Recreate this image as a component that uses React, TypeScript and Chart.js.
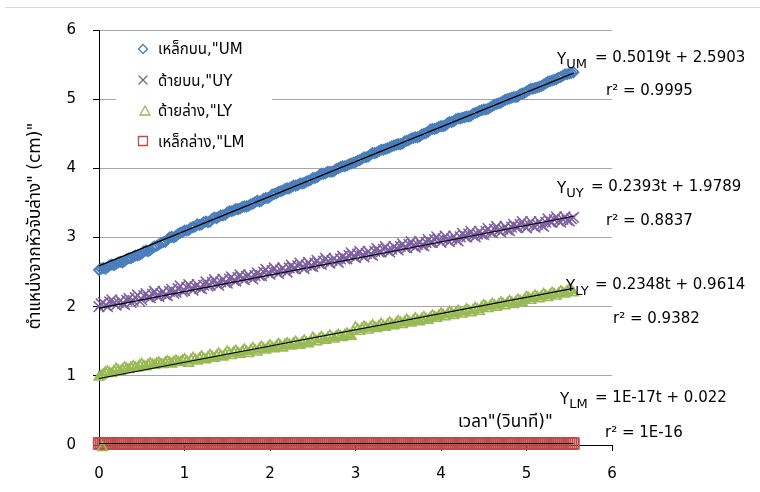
import React, { useEffect, useRef } from 'react';
import { Chart, registerables } from 'chart.js';

Chart.register(...registerables);

// ---------- data ----------
// readings at even frames
const TIME = [
  0, 0.05, 0.1, 0.15, 0.2, 0.25, 0.3, 0.35, 0.4, 0.45,
  0.5, 0.55, 0.6, 0.65, 0.7, 0.75, 0.8, 0.85, 0.9, 0.95,
  1.0, 1.05, 1.1, 1.15, 1.2, 1.25, 1.3, 1.35, 1.4, 1.45,
  1.5, 1.55, 1.6, 1.65, 1.7, 1.75, 1.8, 1.85, 1.9, 1.95,
  2.0, 2.05, 2.1, 2.15, 2.2, 2.25, 2.3, 2.35, 2.4, 2.45,
  2.5, 2.55, 2.6, 2.65, 2.7, 2.75, 2.8, 2.85, 2.9, 2.95,
  3.0, 3.05, 3.1, 3.15, 3.2, 3.25, 3.3, 3.35, 3.4, 3.45,
  3.5, 3.55, 3.6, 3.65, 3.7, 3.75, 3.8, 3.85, 3.9, 3.95,
  4.0, 4.05, 4.1, 4.15, 4.2, 4.25, 4.3, 4.35, 4.4, 4.45,
  4.5, 4.55, 4.6, 4.65, 4.7, 4.75, 4.8, 4.85, 4.9, 4.95,
  5.0, 5.05, 5.1, 5.15, 5.2, 5.25, 5.3, 5.35, 5.4, 5.45,
  5.5, 5.55,
];
// readings at odd frames
const TIME2 = [
  0.025, 0.075, 0.125, 0.175, 0.225, 0.275, 0.325, 0.375, 0.425, 0.475,
  0.525, 0.575, 0.625, 0.675, 0.725, 0.775, 0.825, 0.875, 0.925, 0.975,
  1.025, 1.075, 1.125, 1.175, 1.225, 1.275, 1.325, 1.375, 1.425, 1.475,
  1.525, 1.575, 1.625, 1.675, 1.725, 1.775, 1.825, 1.875, 1.925, 1.975,
  2.025, 2.075, 2.125, 2.175, 2.225, 2.275, 2.325, 2.375, 2.425, 2.475,
  2.525, 2.575, 2.625, 2.675, 2.725, 2.775, 2.825, 2.875, 2.925, 2.975,
  3.025, 3.075, 3.125, 3.175, 3.225, 3.275, 3.325, 3.375, 3.425, 3.475,
  3.525, 3.575, 3.625, 3.675, 3.725, 3.775, 3.825, 3.875, 3.925, 3.975,
  4.025, 4.075, 4.125, 4.175, 4.225, 4.275, 4.325, 4.375, 4.425, 4.475,
  4.525, 4.575, 4.625, 4.675, 4.725, 4.775, 4.825, 4.875, 4.925, 4.975,
  5.025, 5.075, 5.125, 5.175, 5.225, 5.275, 5.325, 5.375, 5.425, 5.475,
  5.525,
];

const UM = [
  2.53, 2.56, 2.57, 2.61, 2.62, 2.65, 2.66, 2.70, 2.72, 2.74,
  2.77, 2.81, 2.82, 2.87, 2.90, 2.93, 2.97, 3.01, 3.02, 3.07,
  3.10, 3.11, 3.15, 3.19, 3.19, 3.23, 3.23, 3.29, 3.30, 3.32,
  3.36, 3.38, 3.41, 3.42, 3.45, 3.46, 3.49, 3.53, 3.53, 3.57,
  3.59, 3.63, 3.66, 3.68, 3.71, 3.73, 3.75, 3.78, 3.79, 3.82,
  3.86, 3.87, 3.92, 3.93, 3.95, 3.96, 4.00, 4.03, 4.04, 4.07,
  4.09, 4.12, 4.16, 4.17, 4.22, 4.23, 4.27, 4.28, 4.30, 4.33,
  4.35, 4.36, 4.40, 4.43, 4.45, 4.46, 4.50, 4.53, 4.57, 4.58,
  4.61, 4.62, 4.67, 4.68, 4.72, 4.73, 4.75, 4.76, 4.80, 4.83,
  4.85, 4.86, 4.90, 4.93, 4.95, 4.99, 5.01, 5.03, 5.04, 5.08,
  5.11, 5.15, 5.16, 5.18, 5.21, 5.25, 5.27, 5.29, 5.32, 5.36,
  5.37, 5.39,
];
const UM2 = [
  2.55, 2.55, 2.60, 2.60, 2.64, 2.64, 2.69, 2.70, 2.74, 2.75,
  2.80, 2.80, 2.85, 2.88, 2.92, 2.94, 3.00, 3.00, 3.05, 3.08,
  3.10, 3.14, 3.16, 3.18, 3.22, 3.22, 3.27, 3.28, 3.32, 3.33,
  3.38, 3.39, 3.41, 3.44, 3.45, 3.48, 3.51, 3.52, 3.56, 3.57,
  3.62, 3.64, 3.67, 3.70, 3.71, 3.75, 3.76, 3.78, 3.81, 3.83,
  3.86, 3.90, 3.92, 3.95, 3.95, 3.99, 4.02, 4.03, 4.06, 4.08,
  4.11, 4.14, 4.16, 4.20, 4.22, 4.25, 4.27, 4.29, 4.32, 4.34,
  4.35, 4.39, 4.41, 4.44, 4.45, 4.49, 4.51, 4.56, 4.57, 4.60,
  4.61, 4.65, 4.67, 4.71, 4.72, 4.74, 4.75, 4.79, 4.81, 4.84,
  4.85, 4.88, 4.92, 4.94, 4.97, 5.00, 5.02, 5.03, 5.07, 5.09,
  5.13, 5.15, 5.17, 5.19, 5.23, 5.26, 5.28, 5.31, 5.34, 5.36,
  5.38,
];

const UY = [
  2.00, 2.06, 2.00, 2.10, 2.02, 2.09, 2.03, 2.12, 2.09, 2.17,
  2.10, 2.19, 2.13, 2.22, 2.15, 2.22, 2.16, 2.25, 2.21, 2.30,
  2.23, 2.32, 2.24, 2.32, 2.26, 2.36, 2.31, 2.39, 2.31, 2.40,
  2.34, 2.43, 2.37, 2.46, 2.39, 2.46, 2.40, 2.49, 2.45, 2.54,
  2.47, 2.56, 2.48, 2.56, 2.50, 2.60, 2.55, 2.63, 2.55, 2.64,
  2.58, 2.67, 2.61, 2.70, 2.63, 2.70, 2.64, 2.73, 2.69, 2.78,
  2.71, 2.80, 2.72, 2.80, 2.74, 2.84, 2.79, 2.87, 2.79, 2.87,
  2.82, 2.91, 2.85, 2.94, 2.86, 2.94, 2.88, 2.97, 2.93, 3.01,
  2.93, 3.02, 2.94, 3.02, 2.95, 3.06, 3.01, 3.09, 3.01, 3.09,
  3.04, 3.13, 3.07, 3.16, 3.08, 3.16, 3.10, 3.19, 3.15, 3.23,
  3.14, 3.23, 3.15, 3.23, 3.16, 3.27, 3.22, 3.30, 3.22, 3.30,
  3.24, 3.29,
];
const UY2 = [
  2.04, 2.02, 2.07, 2.05, 2.06, 2.05, 2.09, 2.06, 2.13, 2.08,
  2.16, 2.14, 2.18, 2.16, 2.19, 2.17, 2.22, 2.19, 2.26, 2.22,
  2.28, 2.26, 2.29, 2.27, 2.31, 2.30, 2.35, 2.33, 2.36, 2.35,
  2.40, 2.38, 2.42, 2.41, 2.44, 2.42, 2.45, 2.45, 2.50, 2.49,
  2.52, 2.50, 2.53, 2.52, 2.56, 2.55, 2.59, 2.57, 2.60, 2.59,
  2.63, 2.62, 2.66, 2.65, 2.67, 2.66, 2.69, 2.69, 2.74, 2.73,
  2.76, 2.74, 2.77, 2.76, 2.80, 2.79, 2.83, 2.81, 2.83, 2.84,
  2.87, 2.86, 2.90, 2.88, 2.90, 2.89, 2.93, 2.93, 2.97, 2.96,
  2.98, 2.96, 2.98, 2.97, 3.01, 3.02, 3.05, 3.03, 3.05, 3.05,
  3.09, 3.08, 3.12, 3.10, 3.12, 3.11, 3.15, 3.15, 3.19, 3.17,
  3.19, 3.17, 3.19, 3.18, 3.22, 3.23, 3.26, 3.24, 3.26, 3.25,
  3.27,
];

const LY = [
  0.98, 1.02, 1.06, 1.03, 1.10, 1.06, 1.12, 1.09, 1.14, 1.11,
  1.17, 1.13, 1.18, 1.15, 1.19, 1.16, 1.21, 1.17, 1.22, 1.19,
  1.24, 1.18, 1.26, 1.21, 1.28, 1.23, 1.30, 1.25, 1.32, 1.27,
  1.35, 1.29, 1.36, 1.31, 1.38, 1.32, 1.40, 1.34, 1.42, 1.37,
  1.44, 1.39, 1.46, 1.40, 1.47, 1.43, 1.49, 1.44, 1.51, 1.46,
  1.55, 1.49, 1.56, 1.51, 1.58, 1.53, 1.59, 1.55, 1.61, 1.57,
  1.70, 1.64, 1.71, 1.66, 1.73, 1.68, 1.75, 1.70, 1.77, 1.72,
  1.79, 1.74, 1.81, 1.76, 1.83, 1.78, 1.85, 1.80, 1.87, 1.83,
  1.90, 1.85, 1.92, 1.87, 1.94, 1.89, 1.96, 1.91, 1.98, 1.93,
  2.02, 1.97, 2.04, 1.99, 2.06, 2.01, 2.08, 2.03, 2.10, 2.06,
  2.14, 2.09, 2.16, 2.11, 2.18, 2.13, 2.20, 2.15, 2.22, 2.18,
  2.24, 2.20,
];
const LY2 = [
  1.00, 1.05, 1.04, 1.07, 1.08, 1.09, 1.10, 1.12, 1.12, 1.15,
  1.14, 1.16, 1.16, 1.18, 1.17, 1.19, 1.19, 1.20, 1.20, 1.22,
  1.21, 1.23, 1.23, 1.25, 1.25, 1.27, 1.27, 1.29, 1.29, 1.31,
  1.32, 1.34, 1.33, 1.35, 1.35, 1.37, 1.37, 1.39, 1.39, 1.41,
  1.41, 1.43, 1.43, 1.45, 1.45, 1.47, 1.46, 1.48, 1.48, 1.50,
  1.52, 1.53, 1.53, 1.55, 1.55, 1.57, 1.57, 1.59, 1.59, 1.64,
  1.67, 1.68, 1.69, 1.70, 1.70, 1.72, 1.72, 1.74, 1.74, 1.76,
  1.77, 1.78, 1.78, 1.80, 1.80, 1.82, 1.82, 1.84, 1.85, 1.87,
  1.88, 1.89, 1.90, 1.91, 1.92, 1.93, 1.94, 1.95, 1.96, 1.99,
  2.00, 2.01, 2.02, 2.03, 2.04, 2.05, 2.06, 2.07, 2.08, 2.10,
  2.12, 2.13, 2.14, 2.15, 2.16, 2.17, 2.18, 2.19, 2.20, 2.22,
  2.23,
];
const LY_OUTLIER_T = [0.04];
const LY_OUTLIER_V = [-0.04];

const LM = [
  0.022, 0.022, 0.022, 0.022, 0.022, 0.022, 0.022, 0.022, 0.022, 0.022,
  0.022, 0.022, 0.022, 0.022, 0.022, 0.022, 0.022, 0.022, 0.022, 0.022,
  0.022, 0.022, 0.022, 0.022, 0.022, 0.022, 0.022, 0.022, 0.022, 0.022,
  0.022, 0.022, 0.022, 0.022, 0.022, 0.022, 0.022, 0.022, 0.022, 0.022,
  0.022, 0.022, 0.022, 0.022, 0.022, 0.022, 0.022, 0.022, 0.022, 0.022,
  0.022, 0.022, 0.022, 0.022, 0.022, 0.022, 0.022, 0.022, 0.022, 0.022,
  0.022, 0.022, 0.022, 0.022, 0.022, 0.022, 0.022, 0.022, 0.022, 0.022,
  0.022, 0.022, 0.022, 0.022, 0.022, 0.022, 0.022, 0.022, 0.022, 0.022,
  0.022, 0.022, 0.022, 0.022, 0.022, 0.022, 0.022, 0.022, 0.022, 0.022,
  0.022, 0.022, 0.022, 0.022, 0.022, 0.022, 0.022, 0.022, 0.022, 0.022,
  0.022, 0.022, 0.022, 0.022, 0.022, 0.022, 0.022, 0.022, 0.022, 0.022,
  0.022, 0.022,
];
const LM2 = [
  0.022, 0.022, 0.022, 0.022, 0.022, 0.022, 0.022, 0.022, 0.022, 0.022,
  0.022, 0.022, 0.022, 0.022, 0.022, 0.022, 0.022, 0.022, 0.022, 0.022,
  0.022, 0.022, 0.022, 0.022, 0.022, 0.022, 0.022, 0.022, 0.022, 0.022,
  0.022, 0.022, 0.022, 0.022, 0.022, 0.022, 0.022, 0.022, 0.022, 0.022,
  0.022, 0.022, 0.022, 0.022, 0.022, 0.022, 0.022, 0.022, 0.022, 0.022,
  0.022, 0.022, 0.022, 0.022, 0.022, 0.022, 0.022, 0.022, 0.022, 0.022,
  0.022, 0.022, 0.022, 0.022, 0.022, 0.022, 0.022, 0.022, 0.022, 0.022,
  0.022, 0.022, 0.022, 0.022, 0.022, 0.022, 0.022, 0.022, 0.022, 0.022,
  0.022, 0.022, 0.022, 0.022, 0.022, 0.022, 0.022, 0.022, 0.022, 0.022,
  0.022, 0.022, 0.022, 0.022, 0.022, 0.022, 0.022, 0.022, 0.022, 0.022,
  0.022, 0.022, 0.022, 0.022, 0.022, 0.022, 0.022, 0.022, 0.022, 0.022,
  0.022,
];

// linear fits (slope, intercept) in series order UM, UY, LY, LM
const FIT_SLOPE = [0.5019, 0.2393, 0.2348, 1e-17];
const FIT_INTERCEPT = [2.5903, 1.9789, 0.9614, 0.022];

const LEGEND_LABELS = ['เหล็กบน,"UM', 'ด้ายบน,"UY', 'ด้ายล่าง,"LY', 'เหล็กล่าง,"LM'];
const EQ_SUBS = ['UM', 'UY', 'LY', 'LM'];
const EQ_TEXT = ['= 0.5019t + 2.5903', '= 0.2393t + 1.9789', '= 0.2348t + 0.9614', '= 1E-17t + 0.022'];
const R2_TEXT = ['r² = 0.9995', 'r² = 0.8837', 'r² = 0.9382', 'r² = 1E-16'];
const X_TITLE = 'เวลา"(วินาที)"';
const Y_TITLE = 'ตำแหน่งจากหัวจับล่าง" (cm)"';
const AXIS_MIN = 0;
const AXIS_MAX = 6;

// ---------- styles ----------
const FONT = "Tahoma, 'DejaVu Sans', 'Noto Sans Thai', 'Noto Sans', sans-serif";
const COLORS = ['#4A7EBB', '#7D60A0', '#98B954', '#BE4B48'];
const STYLES = ['rectRot', 'crossRot', 'triangle', 'rect'];
const RADII = [5, 7.5, 5.5, 7.5];
const BORDER_W = [1.8, 1.5, 1.6, 1.8];

// annotation layout: [Y x, "=" x, eq baseline, r2 x, r2 baseline]
const EQ_POS = [
  [557, 595, 62, 606, 95],
  [557, 591, 191, 606, 225],
  [566, 595, 289, 613, 323],
  [560, 595, 402, 605, 437],
];
const LEG_MARK = [
  [143, 49],
  [143, 80],
  [145, 111],
  [143, 141],
];
const LEG_BASE = [54, 86, 116, 147];

function drawMarker(ctx: CanvasRenderingContext2D, kind: number, x: number, y: number) {
  ctx.save();
  ctx.strokeStyle = COLORS[kind];
  ctx.lineWidth = 1.3;
  ctx.beginPath();
  if (kind === 0) {
    const r = 4.5;
    ctx.moveTo(x, y - r);
    ctx.lineTo(x + r, y);
    ctx.lineTo(x, y + r);
    ctx.lineTo(x - r, y);
    ctx.closePath();
  } else if (kind === 1) {
    const r = 4.5;
    ctx.moveTo(x - r, y - r);
    ctx.lineTo(x + r, y + r);
    ctx.moveTo(x + r, y - r);
    ctx.lineTo(x - r, y + r);
  } else if (kind === 2) {
    const r = 5;
    ctx.moveTo(x, y - r);
    ctx.lineTo(x + r, y + r * 0.8);
    ctx.lineTo(x - r, y + r * 0.8);
    ctx.closePath();
  } else {
    const r = 4.5;
    ctx.rect(x - r, y - r, 2 * r, 2 * r);
  }
  ctx.stroke();
  ctx.restore();
}

const overlay = {
  id: 'overlay',
  afterDraw(chart: any) {
    const ctx: CanvasRenderingContext2D = chart.ctx;
    ctx.save();
    // chart border (top edge)
    ctx.strokeStyle = '#d9d9d9';
    ctx.lineWidth = 1;
    ctx.beginPath();
    ctx.moveTo(5, 7.5);
    ctx.lineTo(760, 7.5);
    ctx.stroke();

    // legend
    ctx.fillStyle = '#ffffff';
    ctx.fillRect(116, 34, 156, 124);
    ctx.fillStyle = '#000';
    ctx.textAlign = 'left';
    ctx.textBaseline = 'alphabetic';
    ctx.font = `15px ${FONT}`;
    LEGEND_LABELS.forEach((lab, i) => {
      drawMarker(ctx, i, LEG_MARK[i][0], LEG_MARK[i][1]);
      ctx.fillText(lab, 158, LEG_BASE[i]);
    });

    // equations
    EQ_SUBS.forEach((sub, i) => {
      const [yx, ex, yb, rx, rb] = EQ_POS[i];
      ctx.font = `15px ${FONT}`;
      ctx.fillText('Y', yx, yb + 2);
      const wY = ctx.measureText('Y').width;
      ctx.font = `13px ${FONT}`;
      ctx.fillText(sub, yx + wY, yb + 6);
      ctx.font = `15px ${FONT}`;
      ctx.fillText(EQ_TEXT[i], ex, yb);
      ctx.fillText(R2_TEXT[i], rx, rb);
    });

    // x title inside plot
    ctx.font = `17px ${FONT}`;
    ctx.fillText(X_TITLE, 458, 427);

    // y title
    ctx.save();
    ctx.translate(36, 226);
    ctx.rotate(-Math.PI / 2);
    ctx.textAlign = 'center';
    ctx.textBaseline = 'middle';
    ctx.font = `17px ${FONT}`;
    ctx.fillText(Y_TITLE, 0, 0);
    ctx.restore();

    ctx.restore();
  },
};

export default function App() {
  const ref = useRef<HTMLCanvasElement | null>(null);

  useEffect(() => {
    const canvas = ref.current;
    if (!canvas) return;
    const seriesVals = [UM, UY, LY, LM];
    const seriesVals2 = [UM2, UY2, LY2, LM2];
    const tEnd = TIME[TIME.length - 1];
    const trend = FIT_SLOPE.map((m, i) => ({
      type: 'scatter' as const,
      label: 'fit ' + EQ_SUBS[i],
      data: [
        { x: TIME[0], y: m * TIME[0] + FIT_INTERCEPT[i] },
        { x: tEnd, y: m * tEnd + FIT_INTERCEPT[i] },
      ],
      showLine: true,
      borderColor: '#000',
      borderWidth: 1.2,
      pointRadius: 0,
      clip: false,
      order: 0,
    }));
    const scatter = seriesVals.map((vals, i) => {
      const pts: { x: number; y: number }[] = [];
      TIME.forEach((t, k) => {
        pts.push({ x: t, y: vals[k] });
        if (k < TIME2.length) pts.push({ x: TIME2[k], y: seriesVals2[i][k] });
      });
      if (i === 2) {
        LY_OUTLIER_T.forEach((t, k) => pts.push({ x: t, y: LY_OUTLIER_V[k] }));
      }
      return {
        type: 'scatter' as const,
        label: EQ_SUBS[i],
        data: pts,
        pointStyle: STYLES[i],
        pointRadius: RADII[i],
        pointBorderColor: COLORS[i],
        pointBackgroundColor: 'rgba(0,0,0,0)',
        pointBorderWidth: BORDER_W[i],
        borderColor: COLORS[i],
        backgroundColor: 'rgba(0,0,0,0)',
        showLine: false,
        clip: false,
        order: 1 + i,
      };
    });

    const chart = new Chart(canvas, {
      type: 'scatter',
      data: { datasets: [...trend, ...scatter] as any },
      options: {
        animation: false,
        responsive: false,
        devicePixelRatio: 1,
        events: [],
        layout: { padding: { left: 0, top: 30, right: 148, bottom: 0 } },
        plugins: { legend: { display: false }, tooltip: { enabled: false } },
        scales: {
          x: {
            type: 'linear',
            min: AXIS_MIN,
            max: AXIS_MAX,
            ticks: { stepSize: 1, color: '#000', font: { family: FONT, size: 15 }, padding: 14 },
            grid: { drawOnChartArea: false, drawTicks: true, tickLength: 6, tickColor: '#000' },
            border: { color: '#000', width: 1 },
            afterFit: (s: any) => { s.height = 47; },
          },
          y: {
            type: 'linear',
            min: AXIS_MIN,
            max: AXIS_MAX,
            ticks: { stepSize: 1, color: '#000', font: { family: FONT, size: 15 }, padding: 17 },
            grid: {
              color: (c: any) => (c.tick && c.tick.value === 0 ? 'rgba(0,0,0,0)' : '#a6a6a6'),
              tickColor: '#000',
              tickLength: 6,
              lineWidth: 1,
            },
            border: { color: '#000', width: 1 },
            afterFit: (s: any) => { s.width = 99; },
          },
        },
      },
      plugins: [overlay],
    } as any);
    return () => chart.destroy();
  }, []);

  return (
    <div style={{ position: 'absolute', left: 0, top: 0, width: 760, height: 492, background: '#fff' }}>
      <canvas ref={ref} width={760} height={492} style={{ display: 'block' }} />
    </div>
  );
}
